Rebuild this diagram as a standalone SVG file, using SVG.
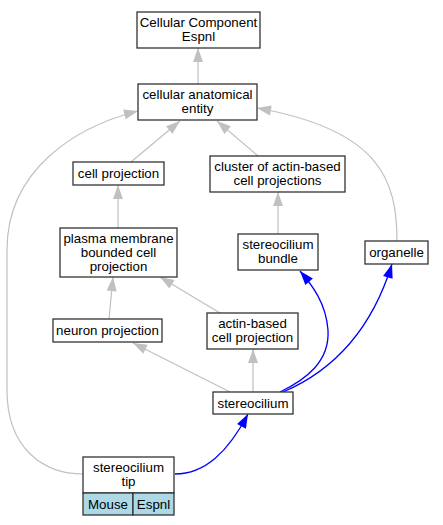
<svg xmlns="http://www.w3.org/2000/svg" width="443" height="525" viewBox="0 0 443 525">
<style>
.n{fill:#fff;stroke:#333;stroke-width:1.3}
.c{fill:#add8e6;stroke:#333;stroke-width:1.3}
text{font-family:"Liberation Sans",Arial,sans-serif;font-size:13.3px;fill:#000;text-anchor:middle}
.g{fill:none;stroke:#c0c0c0;stroke-width:1.2;marker-end:url(#ag)}
.b{fill:none;stroke:#0000ff;stroke-width:1.3;marker-end:url(#ab)}
</style>
<defs>
<marker id="ag" markerUnits="userSpaceOnUse" orient="auto" viewBox="0 0 14 10" markerWidth="14" markerHeight="10" refX="14" refY="5" overflow="visible"><path d="M0,0L14,5L0,10z" fill="#c0c0c0"/></marker>
<marker id="ab" markerUnits="userSpaceOnUse" orient="auto" viewBox="0 0 14 10" markerWidth="14" markerHeight="10" refX="14" refY="5" overflow="visible"><path d="M0,0L14,5L0,10z" fill="#0000ff"/></marker>
</defs>
<g id="connectors">
<path class="g" d="M198,84L198,48"/>
<path class="g" d="M131,162L180,121"/>
<path class="g" d="M258,156L217,121"/>
<path class="g" d="M83,474C45,474 7,450 7,390L7,250C7,170 75,127 138,111"/>
<path class="g" d="M397,241C397,180 380,130 257,108"/>
<path class="g" d="M118,228L118,185"/>
<path class="g" d="M278,234L278,192"/>
<path class="g" d="M109,319L113,277"/>
<path class="g" d="M220,313L160,277"/>
<path class="g" d="M230,392L133,343"/>
<path class="g" d="M253,392L253,349"/>
<path class="b" d="M280,392C305,380 330,362 328,330C326,303 312,285 300,271"/>
<path class="b" d="M283,392C330,372 370,335 392,264"/>
<path class="b" d="M175,474C205,474 228,452 248,414"/>
</g>
<g id="n_cce"><rect class="n" x="137" y="12" width="123" height="36"/><text x="198.5" y="27">Cellular Component</text><text x="198.5" y="41">Espnl</text></g>
<g id="n_cae"><rect class="n" x="138" y="84" width="119" height="36"/><text x="197.5" y="99">cellular anatomical</text><text x="197.5" y="113">entity</text></g>
<g id="n_cp"><rect class="n" x="73" y="162" width="91" height="23"/><text x="118.5" y="178">cell projection</text></g>
<g id="n_cluster"><rect class="n" x="210" y="156" width="135" height="36"/><text x="277.5" y="171">cluster of actin-based</text><text x="277.5" y="185">cell projections</text></g>
<g id="n_pm"><rect class="n" x="60" y="228" width="117" height="49"/><text x="118.5" y="243">plasma membrane</text><text x="118.5" y="257">bounded cell</text><text x="118.5" y="271">projection</text></g>
<g id="n_sb"><rect class="n" x="238" y="234" width="80" height="36"/><text x="278" y="249">stereocilium</text><text x="278" y="263">bundle</text></g>
<g id="n_org"><rect class="n" x="365" y="241" width="63" height="23"/><text x="396.5" y="257">organelle</text></g>
<g id="n_np"><rect class="n" x="53" y="319" width="109" height="23"/><text x="107.5" y="335">neuron projection</text></g>
<g id="n_acp"><rect class="n" x="207" y="313" width="91" height="36"/><text x="252.5" y="328">actin-based</text><text x="252.5" y="342">cell projection</text></g>
<g id="n_st"><rect class="n" x="213" y="392" width="80" height="22"/><text x="253" y="408">stereocilium</text></g>
<g id="n_tip"><rect class="n" x="83" y="457" width="91" height="36"/><text x="128.5" y="472">stereocilium</text><text x="128.5" y="486">tip</text><rect class="c" x="83" y="493" width="50" height="22"/><rect class="c" x="133" y="493" width="41" height="22"/><text x="108" y="509">Mouse</text><text x="153.5" y="509">Espnl</text></g>
</svg>
